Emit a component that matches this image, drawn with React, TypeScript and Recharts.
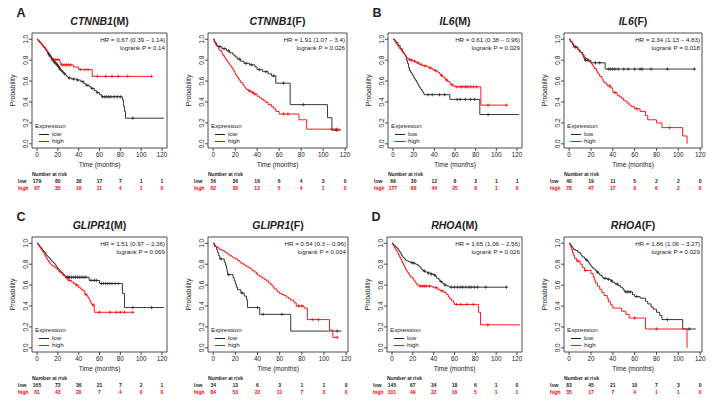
import React from 'react';
import { LineChart, Line, XAxis, YAxis, ReferenceArea } from 'recharts';

// ---------- data: [time, survival, censored?] ----------
const ctnnb1M_low = [[0,1],[1,0.99],[2,0.98],[3,0.965],[4,0.955],[5,0.94],[6,0.93],[7,0.915],[8,0.9],[9,0.885],[10,0.87],[11,0.86,1],[11.5,0.85],[12,0.84],[12.5,0.84,1],[13,0.825],[14,0.81],[14.5,0.81,1],[15,0.8],[15.5,0.8,1],[16,0.785],[16.5,0.785,1],[17,0.775],[17.5,0.775,1],[18,0.765],[18.5,0.765,1],[19,0.755],[19.5,0.755,1],[20,0.74],[20.5,0.74,1],[21,0.725],[21.5,0.725,1],[22,0.71],[22.5,0.71,1],[23,0.7],[24,0.69],[24.5,0.69,1],[25,0.68],[26,0.67],[26.5,0.67,1],[27,0.66],[28,0.65],[29,0.64],[30,0.63],[31,0.63,1],[33,0.62],[35,0.62,1],[38,0.61],[39,0.61,1],[42,0.595],[44,0.595,1],[45,0.575],[47,0.56],[48,0.56,1],[50,0.545],[52,0.53],[53,0.53,1],[55,0.51],[57,0.49],[58,0.49,1],[60,0.47],[62,0.45],[63,0.45,1],[65,0.45,1],[67,0.45,1],[69,0.45,1],[71,0.45,1],[74,0.45,1],[77,0.45,1],[80,0.45,1],[82,0.42],[83,0.36],[84,0.31],[85,0.245],[92,0.245,1],[122,0.245]];
const ctnnb1M_high = [[0,1],[1,0.985],[2,0.97],[4,0.955],[5,0.94],[6,0.925],[8,0.91],[9,0.895],[10,0.88],[11,0.865],[12,0.85],[13,0.835],[14,0.82],[15,0.805],[16,0.805,1],[18,0.805,1],[20,0.805,1],[22,0.78],[23,0.755],[24,0.755,1],[26,0.755,1],[28,0.755,1],[30,0.755,1],[32,0.755,1],[35,0.735],[40,0.71],[42,0.71,1],[46,0.71,1],[49,0.71,1],[53,0.645],[58,0.645,1],[66,0.645,1],[72,0.645,1],[78,0.645,1],[87,0.645,1],[110,0.645,1]];

const ctnnb1F_low = [[0,1],[1,0.98],[2,0.965],[3,0.945],[4,0.93],[6,0.93,1],[8,0.91],[10,0.91,1],[12,0.89],[14,0.89,1],[15,0.87],[18,0.85],[20,0.83],[22,0.81],[24,0.81,1],[25,0.79],[28,0.77],[30,0.77,1],[33,0.755],[35,0.755,1],[38,0.735],[40,0.71],[42,0.71,1],[45,0.69],[48,0.69,1],[50,0.67],[53,0.65],[55,0.65,1],[57,0.58],[64,0.58,1],[70,0.375],[82,0.375,1],[104,0.25],[108,0.13],[112,0.13,1],[116,0.13]];
const ctnnb1F_high = [[0,1],[1,0.97],[2,0.95],[3,0.935],[5,0.905],[6,0.89],[8,0.86],[9,0.845],[10,0.83],[11,0.815],[12,0.8],[13,0.785],[14,0.77],[15,0.755],[16,0.74],[17,0.725],[18,0.71],[19,0.69],[20,0.665],[21,0.65],[22,0.635],[23,0.62],[24,0.605],[25,0.585],[27,0.565],[28,0.55],[29,0.535],[30,0.52],[32,0.505],[33,0.505,1],[35,0.49],[36,0.49,1],[37,0.475],[38,0.475,1],[40,0.455],[42,0.44],[44,0.425],[46,0.41],[48,0.395],[50,0.375],[53,0.355],[55,0.335],[57,0.31],[60,0.285],[64,0.285,1],[68,0.285,1],[78,0.23],[85,0.14],[108,0.14,1],[112,0.14,1],[116,0.14]];

const il6M_low = [[0,1],[2,0.985],[3,0.97],[5,0.94],[7,0.91],[9,0.88],[10,0.87],[11,0.855],[12,0.84],[13,0.8],[14,0.77],[15,0.73],[16,0.7],[17,0.685],[18,0.67],[19,0.655],[20,0.635],[21,0.62],[22,0.605],[23,0.585],[24,0.57],[25,0.55],[26,0.535],[27,0.52],[28,0.505],[29,0.49],[30,0.47],[34,0.47,1],[38,0.47,1],[45,0.47,1],[50,0.47,1],[55,0.425],[62,0.425,1],[65,0.425,1],[70,0.425,1],[75,0.425,1],[79,0.425,1],[84,0.28],[92,0.28,1],[122,0.28]];
const il6M_high = [[0,1],[1,0.99],[2,0.975],[3,0.96],[4,0.945],[5,0.93],[6,0.915],[7,0.905],[8,0.89],[9,0.88],[10,0.87],[11,0.855],[12,0.84],[13,0.825],[14,0.815],[15,0.81],[16,0.805,1],[17,0.8],[18,0.8,1],[19,0.795],[20,0.79],[21,0.79,1],[22,0.78],[23,0.775],[24,0.775,1],[25,0.765],[26,0.76],[27,0.76,1],[28,0.75],[30,0.745],[31,0.745,1],[33,0.735],[35,0.725],[36,0.725,1],[38,0.71],[40,0.7],[41,0.7,1],[43,0.685],[45,0.67],[46,0.655],[47,0.655,1],[48,0.64],[50,0.625],[51,0.61],[52,0.61,1],[53,0.595],[55,0.58],[56,0.565],[57,0.565,1],[58,0.555],[60,0.545],[62,0.545,1],[65,0.545,1],[67,0.545,1],[70,0.545,1],[72,0.545,1],[75,0.545,1],[78,0.545,1],[81,0.545,1],[85,0.37],[92,0.37,1],[110,0.37,1]];

const il6F_low = [[0,1],[1,0.975],[3,0.95],[4,0.925],[6,0.925,1],[8,0.9],[10,0.875],[12,0.85],[13,0.825],[14,0.8],[15,0.8,1],[17,0.8,1],[20,0.775],[24,0.775,1],[28,0.775,1],[33,0.715],[36,0.715,1],[38,0.715,1],[40,0.715,1],[42,0.715,1],[45,0.715,1],[50,0.715,1],[54,0.715,1],[60,0.715,1],[65,0.715,1],[67,0.715,1],[75,0.715,1],[90,0.715,1],[115,0.715,1]];
const il6F_high = [[0,1],[1,0.985],[2,0.975],[3,0.96],[4,0.945],[5,0.935],[6,0.92],[8,0.905],[9,0.89],[10,0.875],[12,0.86],[13,0.845],[14,0.83],[15,0.815],[17,0.8],[18,0.785],[20,0.77],[21,0.755],[22,0.74],[23,0.72],[25,0.695],[26,0.68],[27,0.665],[28,0.645],[30,0.62],[31,0.6],[32,0.585],[34,0.57],[35,0.555],[37,0.555,1],[38,0.535],[40,0.49],[42,0.49,1],[44,0.465],[46,0.45],[48,0.435],[50,0.41],[53,0.39],[55,0.37],[57,0.355],[60,0.335],[62,0.335,1],[65,0.31],[70,0.27],[72,0.23],[80,0.2],[85,0.155],[92,0.155,1],[104,0.075],[108,0]];

const glipr1M_low = [[0,1],[1,0.99],[2,0.975],[3,0.965],[4,0.95],[5,0.935],[6,0.925],[7,0.915],[8,0.9],[9,0.885],[10,0.875],[11,0.865],[12,0.855],[13,0.84],[14,0.83],[15,0.82],[16,0.81],[17,0.8],[18,0.785],[19,0.77],[20,0.755],[21,0.745],[22,0.735],[23,0.725],[24,0.715],[25,0.705],[26,0.695],[27,0.685],[28,0.675],[29,0.675,1],[30,0.675,1],[31,0.675,1],[33,0.675,1],[35,0.675,1],[37,0.675,1],[39,0.675,1],[41,0.675,1],[43,0.675,1],[45,0.675,1],[47,0.675,1],[50,0.645],[52,0.645,1],[55,0.645,1],[57,0.645,1],[60,0.615],[62,0.615,1],[64,0.615,1],[66,0.615,1],[68,0.615,1],[70,0.615,1],[72,0.615,1],[75,0.615,1],[78,0.615,1],[82,0.52],[84,0.385],[92,0.385,1],[110,0.385,1],[122,0.385]];
const glipr1M_high = [[0,1],[1,0.985],[2,0.97],[3,0.955],[4,0.94],[5,0.925],[6,0.91],[7,0.89],[8,0.87],[9,0.855],[10,0.84],[11,0.825],[12,0.81],[13,0.8],[14,0.79],[15,0.78],[17,0.77],[18,0.76],[20,0.745],[21,0.73],[22,0.72],[24,0.705],[25,0.69],[27,0.675],[28,0.66],[30,0.645],[31,0.645,1],[33,0.63],[35,0.615],[37,0.6],[38,0.6,1],[40,0.575],[42,0.56],[44,0.545],[46,0.51],[47,0.51,1],[48,0.495],[49,0.48],[50,0.46],[51,0.44],[52,0.42],[53,0.41],[54,0.41,1],[55,0.34],[60,0.34,1],[70,0.34,1],[76,0.34,1],[80,0.34,1],[84,0.34,1],[92,0.34,1]];

const glipr1F_low = [[0,1],[1,0.97],[3,0.94],[4,0.91],[5,0.88],[6,0.85],[7,0.85,1],[10,0.82],[11,0.79],[12,0.76],[12.5,0.73],[13,0.7],[14,0.7,1],[18,0.67],[19,0.64],[20,0.61],[21,0.58],[22,0.555],[25,0.525],[26,0.525,1],[28,0.495],[30,0.46],[31,0.385],[40,0.385,1],[42,0.32],[45,0.32,1],[62,0.32,1],[70,0.16],[112,0.16,1],[116,0.16]];
const glipr1F_high = [[0,1],[1,0.985],[2,0.97],[3,0.96],[5,0.95],[6,0.94],[8,0.93],[10,0.92],[11,0.91],[13,0.9],[14,0.89],[15,0.88],[17,0.87],[18,0.86],[20,0.85],[22,0.835],[24,0.82],[25,0.81],[27,0.8],[28,0.79],[30,0.775],[32,0.765],[34,0.755],[35,0.74],[37,0.725],[39,0.71],[40,0.695],[42,0.68],[44,0.67],[46,0.655],[48,0.64],[50,0.62],[52,0.6],[54,0.58],[55,0.565],[57,0.55],[58,0.535],[60,0.52],[62,0.51],[64,0.5],[66,0.485],[68,0.47],[70,0.455],[73,0.43],[75,0.4],[77,0.4,1],[80,0.4,1],[82,0.38],[85,0.27],[90,0.27,1],[95,0.27,1],[105,0.17],[108,0.1],[112,0.1,1]];

const rhoaM_low = [[0,1],[1,0.99],[2,0.98],[3,0.97],[4,0.96],[5,0.95],[6,0.935],[7,0.92],[8,0.905],[9,0.885],[10,0.87],[11,0.86],[12,0.85],[13,0.84],[14,0.835],[15,0.83],[16,0.825],[17,0.82],[18,0.815],[19,0.815,1],[20,0.81],[21,0.81,1],[22,0.805],[23,0.8],[24,0.795],[25,0.785],[26,0.78],[27,0.77],[28,0.755],[29,0.745],[30,0.735],[31,0.735,1],[32,0.725],[34,0.715],[35,0.715,1],[37,0.705],[38,0.705,1],[40,0.695],[41,0.695,1],[42,0.68],[43,0.665],[45,0.65],[46,0.635],[47,0.635,1],[48,0.62],[50,0.6],[51,0.6,1],[53,0.59],[55,0.58],[57,0.58,1],[60,0.58,1],[63,0.58,1],[66,0.58,1],[68,0.58,1],[71,0.58,1],[74,0.58,1],[76,0.58,1],[79,0.58,1],[82,0.58,1],[90,0.58,1],[110,0.58,1]];
const rhoaM_high = [[0,1],[1,0.98],[2,0.96],[3,0.945],[4,0.93],[5,0.91],[6,0.89],[7,0.87],[8,0.85],[9,0.83],[10,0.81],[11,0.79],[12,0.77],[13,0.75],[14,0.735],[15,0.72],[16,0.705],[17,0.69],[18,0.675],[20,0.66],[21,0.645],[22,0.63],[23,0.615],[24,0.6],[26,0.59],[27,0.59,1],[29,0.59,1],[31,0.59,1],[33,0.59,1],[36,0.59,1],[38,0.585],[40,0.575],[42,0.575,1],[44,0.56],[46,0.545],[48,0.545,1],[50,0.53],[52,0.51],[54,0.49],[55,0.47],[57,0.45],[59,0.43],[60,0.415],[62,0.415,1],[66,0.415,1],[72,0.415,1],[78,0.415,1],[83,0.34],[85,0.22],[92,0.22,1],[123,0.22]];

const rhoaF_low = [[0,1],[1,0.985],[2,0.97],[3,0.955],[4,0.94],[6,0.93],[8,0.915],[10,0.9],[11,0.885],[12,0.87],[14,0.855],[15,0.84],[16,0.84,1],[17,0.825],[18,0.81],[19,0.795],[20,0.78],[21,0.77],[22,0.755],[24,0.74],[25,0.725],[26,0.725,1],[27,0.71],[28,0.695],[30,0.68],[31,0.665],[33,0.665,1],[35,0.655],[36,0.655,1],[38,0.64],[39,0.64,1],[40,0.625],[42,0.61],[44,0.61,1],[45,0.595],[47,0.58],[49,0.565],[50,0.55],[51,0.535],[52,0.535,1],[54,0.535,1],[56,0.535,1],[58,0.51],[60,0.49],[62,0.49,1],[65,0.475],[70,0.445],[72,0.42],[75,0.39],[77,0.37],[80,0.34],[83,0.31],[85,0.27],[90,0.27,1],[104,0.18],[110,0.18,1],[116,0.18]];
const rhoaF_high = [[0,1],[1,0.97],[2,0.94],[3,0.91],[4,0.885],[5,0.855],[7,0.83],[8,0.83,1],[10,0.8],[12,0.77],[14,0.74],[15,0.74,1],[20,0.71],[22,0.68],[23,0.65],[24,0.62],[26,0.59],[28,0.56],[30,0.53],[32,0.5],[35,0.47],[36,0.44],[38,0.41],[40,0.38],[48,0.35],[52,0.32],[55,0.285],[60,0.285,1],[70,0.18],[80,0.18,1],[108,0]];

// numbers at risk at months 0,20,...,120
const X_TICKS = [0, 20, 40, 60, 80, 100, 120];
const Y_TICKS = [0, 0.2, 0.4, 0.6, 0.8, 1.0];
const risk_ctnnb1M_low = [179, 80, 38, 17, 7, 1, 1];
const risk_ctnnb1M_high = [67, 35, 19, 11, 4, 1, 0];
const risk_ctnnb1F_low = [56, 36, 16, 6, 4, 3, 0];
const risk_ctnnb1F_high = [62, 30, 12, 5, 4, 1, 0];
const risk_il6M_low = [69, 30, 12, 8, 3, 1, 1];
const risk_il6M_high = [177, 86, 44, 25, 8, 1, 0];
const risk_il6F_low = [40, 19, 11, 5, 2, 2, 0];
const risk_il6F_high = [78, 47, 17, 9, 6, 2, 0];
const risk_glipr1M_low = [165, 73, 36, 21, 7, 2, 1];
const risk_glipr1M_high = [81, 43, 20, 7, 4, 0, 0];
const risk_glipr1F_low = [34, 13, 6, 3, 1, 1, 0];
const risk_glipr1F_high = [84, 53, 22, 11, 7, 3, 0];
const risk_rhoaM_low = [145, 67, 34, 18, 6, 1, 0];
const risk_rhoaM_high = [101, 49, 22, 16, 5, 1, 1];
const risk_rhoaF_low = [83, 45, 21, 10, 7, 3, 0];
const risk_rhoaF_high = [35, 17, 7, 4, 1, 1, 0];

// ---------- layout & style ----------
const FONT = '"Liberation Sans", Arial, Helvetica, sans-serif';
const INK = '#222';
const RED = '#ff0000';
const DOM_M: [number, number] = [-4.8, 124.8];
const DOM_F: [number, number] = [-4.7, 121.7];
const Y_DOMAIN: [number, number] = [-0.04, 1.06];
const YW = 27;
const MT = 4;
const MR = 4;
const XH = 31;
const RH = 7;

type Def = {
  letter?: string; gene: string; sex: string; hr: string; p: string;
  low: number[][]; high: number[][]; riskLow: number[]; riskHigh: number[];
  box: [number, number, number, number]; xDomain: [number, number];
};

const PANELS: Def[] = [
  { letter: 'A', gene: 'CTNNB1', sex: 'M', hr: 'HR = 0.67 (0.39 – 1.14)', p: 'logrank P = 0.14', low: ctnnb1M_low, high: ctnnb1M_high, riskLow: risk_ctnnb1M_low, riskHigh: risk_ctnnb1M_high, box: [32, 33, 167, 148], xDomain: DOM_M },
  { gene: 'CTNNB1', sex: 'F', hr: 'HR = 1.91 (1.07 – 3.4)', p: 'logrank P = 0.026', low: ctnnb1F_low, high: ctnnb1F_high, riskLow: risk_ctnnb1F_low, riskHigh: risk_ctnnb1F_high, box: [208, 33, 347, 148], xDomain: DOM_F },
  { letter: 'B', gene: 'IL6', sex: 'M', hr: 'HR = 0.61 (0.38 – 0.96)', p: 'logrank P = 0.029', low: il6M_low, high: il6M_high, riskLow: risk_il6M_low, riskHigh: risk_il6M_high, box: [388, 33, 522, 148], xDomain: DOM_M },
  { gene: 'IL6', sex: 'F', hr: 'HR = 2.34 (1.13 – 4.83)', p: 'logrank P = 0.018', low: il6F_low, high: il6F_high, riskLow: risk_il6F_low, riskHigh: risk_il6F_high, box: [564, 33, 702, 148], xDomain: DOM_F },
  { letter: 'C', gene: 'GLIPR1', sex: 'M', hr: 'HR = 1.51 (0.97 – 2.36)', p: 'logrank P = 0.069', low: glipr1M_low, high: glipr1M_high, riskLow: risk_glipr1M_low, riskHigh: risk_glipr1M_high, box: [32, 237, 167, 352], xDomain: DOM_M },
  { gene: 'GLIPR1', sex: 'F', hr: 'HR = 0.54 (0.3 – 0.96)', p: 'logrank P = 0.034', low: glipr1F_low, high: glipr1F_high, riskLow: risk_glipr1F_low, riskHigh: risk_glipr1F_high, box: [208, 237, 348, 352], xDomain: DOM_F },
  { letter: 'D', gene: 'RHOA', sex: 'M', hr: 'HR = 1.65 (1.06 – 2.56)', p: 'logrank P = 0.026', low: rhoaM_low, high: rhoaM_high, riskLow: risk_rhoaM_low, riskHigh: risk_rhoaM_high, box: [387, 237, 522, 352], xDomain: DOM_M },
  { gene: 'RHOA', sex: 'F', hr: 'HR = 1.86 (1.06 – 3.27)', p: 'logrank P = 0.029', low: rhoaF_low, high: rhoaF_high, riskLow: risk_rhoaF_low, riskHigh: risk_rhoaF_high, box: [564, 237, 702, 352], xDomain: DOM_F },
];

const toRows = (km: number[][]) => km.map((r) => ({ t: r[0], s: r[1], c: r[2] === 1 }));

function CensorDot(props: any) {
  const { cx, cy, payload, stroke } = props;
  if (!payload || !payload.c || cx == null || cy == null) return <g />;
  return (
    <path d={`M${cx - 1.6},${cy}H${cx + 1.6}M${cx},${cy - 1.7}V${cy + 1.7}`} stroke={stroke} strokeWidth={0.7} fill="none" />
  );
}

function YTick(props: any) {
  const { x, y, payload } = props;
  return (
    <text x={x} y={y} transform={`rotate(-90 ${x} ${y})`} textAnchor="middle" fontSize={6.5} fill={INK} fontFamily={FONT}>
      {Number(payload.value).toFixed(1)}
    </text>
  );
}

function Txt({ x, cy, fs, anchor = 'start', color = INK, bold = false, italic = false, children }: any) {
  const style: React.CSSProperties = {
    position: 'absolute', top: cy - fs / 2, fontSize: fs, lineHeight: `${fs}px`, whiteSpace: 'nowrap',
    color, fontWeight: bold ? 700 : 400, fontStyle: italic ? 'italic' : 'normal', fontFamily: FONT,
  };
  if (anchor === 'start') style.left = x;
  else if (anchor === 'end') style.right = 714 - x;
  else { style.left = x; style.transform = 'translateX(-50%)'; }
  return <div style={style}>{children}</div>;
}

function Panel({ d }: { d: Def }) {
  const [L, T, R, B] = d.box;
  const w = R - L;
  const h = B - T;
  const chartW = YW + w + MR;
  const chartH = MT + h + XH + RH * 2;
  const lowRows = toRows(d.low);
  const highRows = toRows(d.high);
  const fmt = (arr: number[]) => (v: number) => {
    const i = X_TICKS.indexOf(v);
    return i >= 0 ? String(arr[i]) : '';
  };
  return (
    <>
      <div style={{ position: 'absolute', left: L - YW, top: T - MT }}>
        <LineChart width={chartW} height={chartH} margin={{ top: MT, right: MR, bottom: 0, left: 0 }}>
          <XAxis xAxisId="x2" dataKey="t" type="number" domain={d.xDomain} ticks={X_TICKS} allowDataOverflow interval={0}
            axisLine={false} tickLine={false} tickSize={0} tickMargin={0} height={RH}
            tick={{ fontSize: 5, fill: RED, fontFamily: FONT, fontWeight: 700 }} tickFormatter={fmt(d.riskHigh)} />
          <XAxis xAxisId="x1" dataKey="t" type="number" domain={d.xDomain} ticks={X_TICKS} allowDataOverflow interval={0}
            axisLine={false} tickLine={false} tickSize={0} tickMargin={0} height={RH}
            tick={{ fontSize: 5, fill: INK, fontFamily: FONT, fontWeight: 700 }} tickFormatter={fmt(d.riskLow)} />
          <XAxis xAxisId="x0" dataKey="t" type="number" domain={d.xDomain} ticks={X_TICKS} allowDataOverflow interval={0}
            axisLine={false} tickLine={{ stroke: INK, strokeWidth: 0.8 }} tickSize={3} tickMargin={2} height={XH}
            tick={{ fontSize: 6.3, fill: INK, fontFamily: FONT }}
            label={{ value: 'Time (months)', position: 'insideBottom', offset: 12, fontSize: 6.5, fill: INK, fontFamily: FONT }} />
          <YAxis yAxisId="p" type="number" domain={Y_DOMAIN} ticks={Y_TICKS} allowDataOverflow interval={0} width={YW}
            axisLine={false} tickLine={{ stroke: INK, strokeWidth: 0.8 }} tickSize={3} tickMargin={1} tick={YTick}
            label={{ value: 'Probability', angle: -90, position: 'insideLeft', offset: 8, fontSize: 6.8, fill: INK, fontFamily: FONT, style: { textAnchor: 'middle' } }} />
          <ReferenceArea xAxisId="x0" yAxisId="p" x1={d.xDomain[0]} x2={d.xDomain[1]} y1={Y_DOMAIN[0]} y2={Y_DOMAIN[1]}
            fill="none" fillOpacity={0} stroke={INK} strokeWidth={0.8} ifOverflow="visible" />
          <Line xAxisId="x0" yAxisId="p" name="low" data={lowRows} dataKey="s" type="stepAfter" stroke={INK} strokeWidth={0.9}
            dot={CensorDot} activeDot={false} isAnimationActive={false} />
          <Line xAxisId="x0" yAxisId="p" name="high" data={highRows} dataKey="s" type="stepAfter" stroke={RED} strokeWidth={0.9}
            dot={CensorDot} activeDot={false} isAnimationActive={false} />
        </LineChart>
      </div>
      {d.letter && <Txt x={L - 11} cy={T - 20} fs={12.5} anchor="middle" bold>{d.letter}</Txt>}
      <Txt x={(L + R) / 2} cy={T - 12} fs={10.5} anchor="middle" bold>
        <span style={{ fontStyle: 'italic' }}>{d.gene}</span>({d.sex})
      </Txt>
      <Txt x={R - 2} cy={T + 7.5} fs={6.2} anchor="end">{d.hr}</Txt>
      <Txt x={R - 2} cy={T + 15} fs={6.2} anchor="end">{d.p}</Txt>
      <Txt x={L + 3} cy={B - 21.5} fs={6.2}>Expression</Txt>
      <div style={{ position: 'absolute', left: L + 7, width: 10, top: B - 14, height: 0, borderTop: `1px solid ${INK}` }} />
      <Txt x={L + 20} cy={B - 13.5} fs={6.2}>low</Txt>
      <div style={{ position: 'absolute', left: L + 7, width: 10, top: B - 7.5, height: 0, borderTop: `1px solid ${RED}` }} />
      <Txt x={L + 20} cy={B - 7} fs={6.2}>high</Txt>
      <Txt x={L} cy={B + 26} fs={5} bold>Number at risk</Txt>
      <Txt x={L - 14} cy={B + XH + 2} fs={5} bold>low</Txt>
      <Txt x={L - 14} cy={B + XH + RH + 2} fs={5} bold color={RED}>high</Txt>
    </>
  );
}

export default function App() {
  return (
    <div style={{ position: 'absolute', left: 0, top: 0, width: 714, height: 404, background: '#fff', overflow: 'hidden', fontFamily: FONT }}>
      {PANELS.map((d, i) => <Panel key={i} d={d} />)}
    </div>
  );
}
